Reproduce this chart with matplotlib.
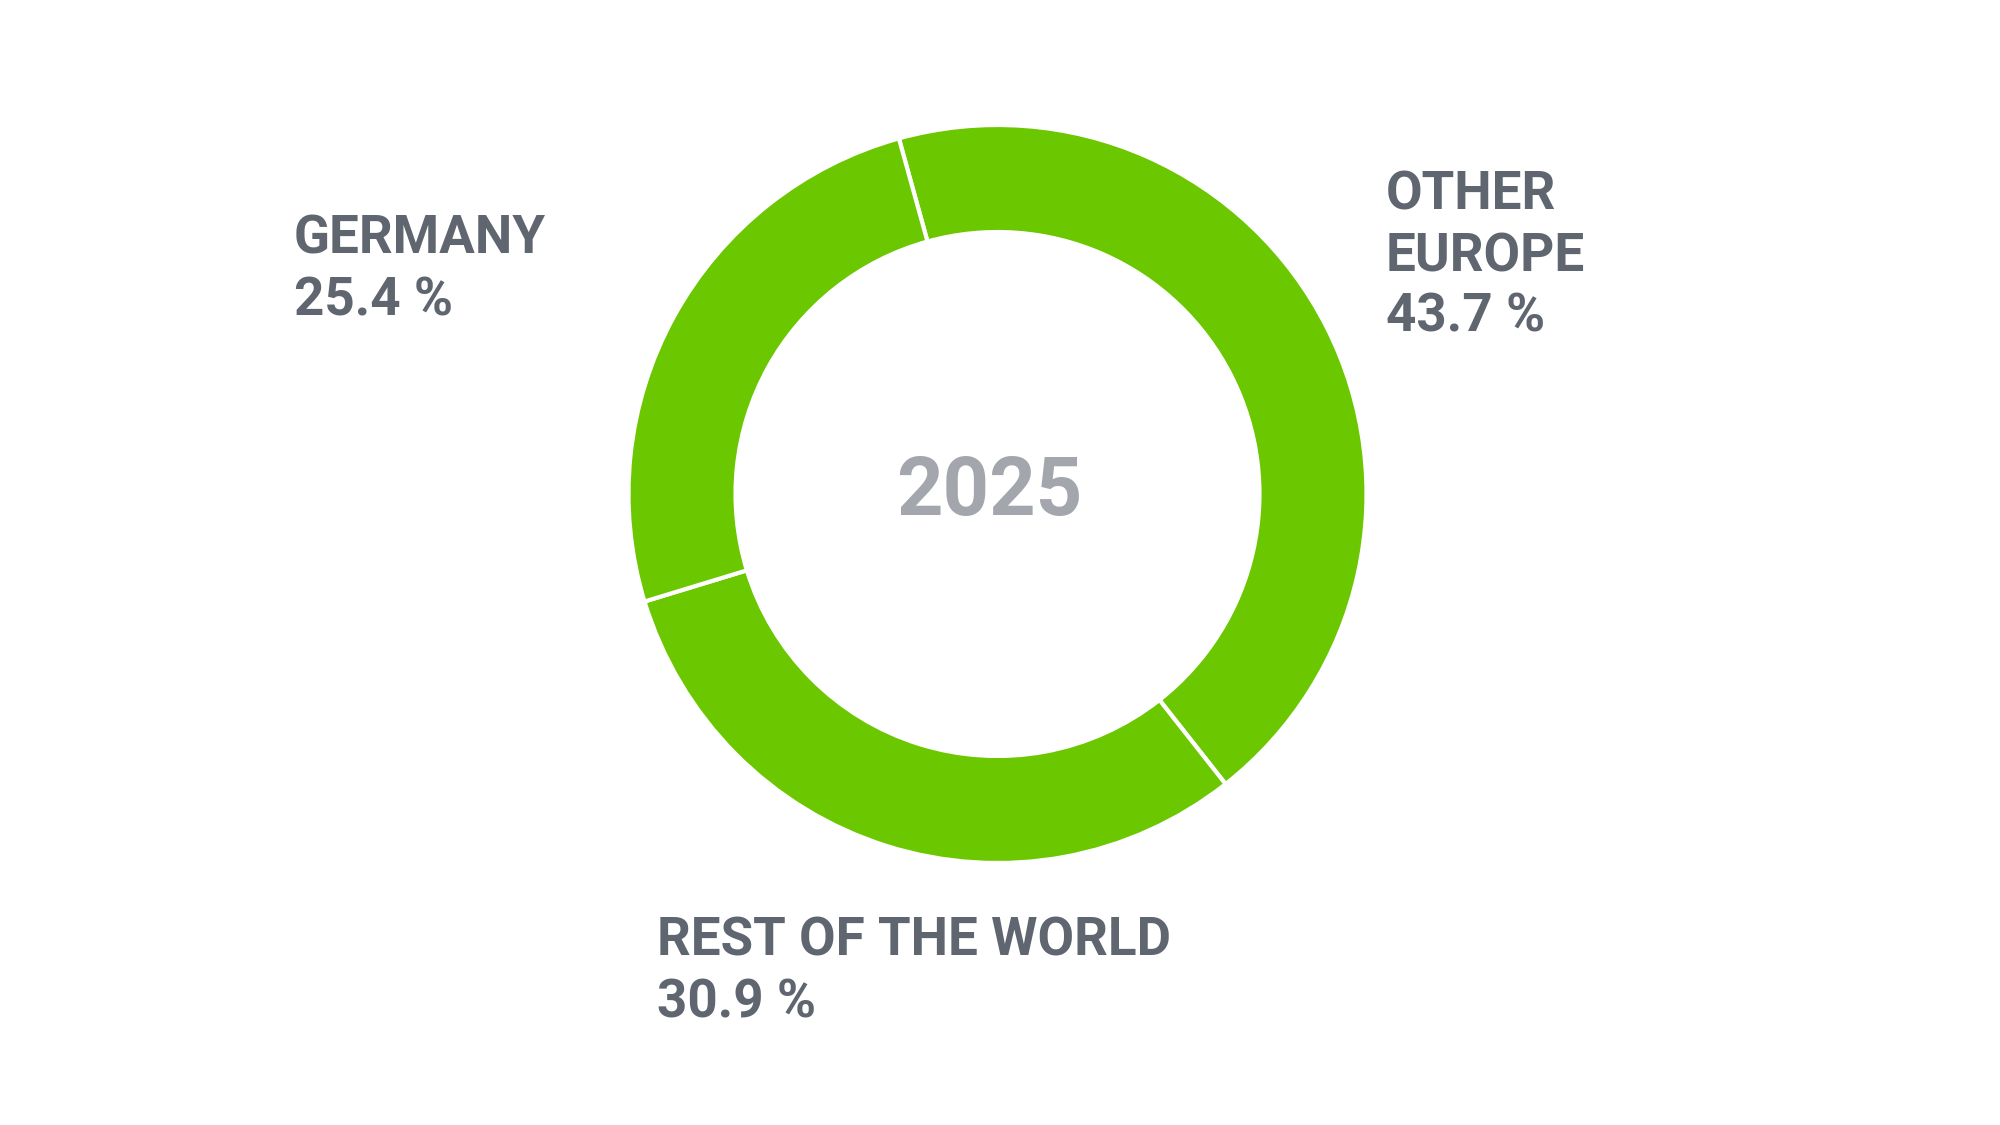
import matplotlib
matplotlib.use("Agg")
import matplotlib.pyplot as plt

# Data
categories = ["OTHER\nEUROPE", "REST OF THE WORLD", "GERMANY"]
shares = [43.7, 30.9, 25.4]
year_label = "2025"

GREEN = "#6BC700"
TEXT = "#5F6670"
CENTER = "#A3A6AC"

W, H = 2000, 1125
fig = plt.figure(figsize=(20, 11.25), dpi=100)
fig.patch.set_facecolor("white")

cx, cy, R = 997.5, 494, 369
ax = fig.add_axes([(cx - R) / W, (H - cy - R) / H, 2 * R / W, 2 * R / H])
ax.pie(shares, colors=[GREEN] * len(shares), startangle=105.5, counterclock=False,
       radius=1.0, wedgeprops=dict(width=0.29, edgecolor="white", linewidth=3))
ax.set_xlim(-1, 1)
ax.set_ylim(-1, 1)
ax.axis("off")

font = "Roboto"
fs = 38.2

def put(x, y_base, s, **kw):
    fig.text(x / W, 1 - y_base / H, s, ha="left", va="baseline",
             fontsize=fs, fontweight="bold", color=TEXT, family=font, **kw)

# label anchors: (left x, first baseline)
anchors = [(1386, 210), (657, 956), (294, 254)]
line_step = 61
for (x, yb), name, val in zip(anchors, categories, shares):
    lines = name.split("\n") + [f"{val:.1f} %"]
    for i, ln in enumerate(lines):
        put(x, yb + i * line_step, ln)

fig.text(989 / W, 1 - 515 / H, year_label, ha="center", va="baseline",
         fontsize=58.5, fontweight="bold", color=CENTER, family=font)

fig.savefig("out.png", dpi=100, facecolor="white")
